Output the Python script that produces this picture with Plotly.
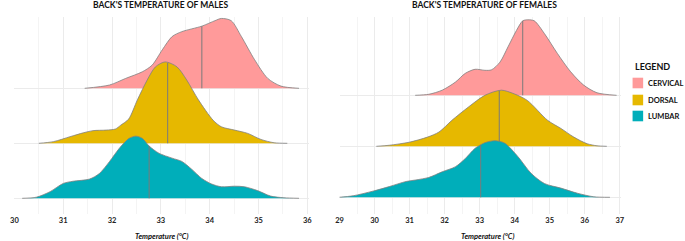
import numpy as np
import plotly.graph_objects as go

W, H = 685, 241

regions = ["CERVICAL", "DORSAL", "LUMBAR"]
region_colors = ["#FF9A9A", "#E6B800", "#00AEBA"]
outline_color = "#808080"

# ---- Males: temperature grid (°C) and scaled density heights (ridge units) ----
male_cervical_t = [31.44, 31.95, 32.28, 32.62, 32.82, 33.03, 33.23, 33.43, 33.84, 34.11, 34.24, 34.44, 34.65, 34.92, 35.19, 35.46, 35.83]
male_cervical_d = [0.00, 0.06, 0.18, 0.30, 0.42, 0.70, 0.94, 1.03, 1.13, 1.23, 1.27, 1.23, 0.94, 0.52, 0.18, 0.04, 0.00]

male_dorsal_t = [30.50, 30.80, 31.14, 31.41, 31.61, 31.88, 32.07, 32.18, 32.34, 32.52, 32.72, 32.89, 33.09, 33.33, 33.53, 33.77, 34.07, 34.24, 34.51, 34.78, 35.05, 35.32, 35.59]
male_dorsal_d = [0.00, 0.03, 0.12, 0.19, 0.23, 0.24, 0.26, 0.33, 0.44, 0.79, 1.15, 1.39, 1.48, 1.39, 1.15, 0.79, 0.42, 0.30, 0.24, 0.18, 0.07, 0.01, 0.00]

male_lumbar_t = [30.16, 30.45, 30.73, 31.00, 31.20, 31.54, 31.74, 31.95, 32.15, 32.35, 32.49, 32.62, 32.76, 32.96, 33.23, 33.43, 33.63, 33.84, 34.04, 34.24, 34.51, 34.71, 34.98, 35.25, 35.52, 35.83]
male_lumbar_d = [0.00, 0.02, 0.12, 0.27, 0.31, 0.35, 0.45, 0.67, 0.91, 1.09, 1.13, 1.09, 0.95, 0.82, 0.73, 0.67, 0.53, 0.36, 0.26, 0.21, 0.22, 0.21, 0.14, 0.04, 0.01, 0.00]

male_medians = [33.84, 33.14, 32.76]

# ---- Females ----
female_cervical_t = [31.16, 31.55, 31.93, 32.31, 32.59, 32.87, 33.15, 33.34, 33.58, 33.81, 34.05, 34.23, 34.375, 34.56, 34.85, 35.22, 35.60, 35.97, 36.35, 36.91]
female_cervical_d = [0.00, 0.02, 0.10, 0.26, 0.43, 0.51, 0.49, 0.50, 0.65, 0.95, 1.27, 1.46, 1.48, 1.46, 1.21, 0.82, 0.46, 0.20, 0.05, 0.00]

female_dorsal_t = [30.05, 30.42, 30.99, 31.51, 31.84, 32.21, 32.68, 33.15, 33.62, 33.98, 34.36, 34.94, 35.32, 35.69, 36.07, 36.35, 36.63]
female_dorsal_d = [0.00, 0.02, 0.08, 0.18, 0.28, 0.51, 0.77, 1.00, 1.10, 1.03, 0.90, 0.51, 0.35, 0.18, 0.05, 0.01, 0.00]

female_lumbar_t = [28.97, 29.39, 29.95, 30.42, 30.90, 31.18, 31.55, 31.93, 32.31, 32.59, 32.87, 33.15, 33.44, 33.72, 34.09, 34.47, 34.85, 35.32, 35.79, 36.26, 36.72]
female_lumbar_d = [0.00, 0.03, 0.12, 0.21, 0.31, 0.34, 0.39, 0.50, 0.60, 0.76, 0.96, 1.07, 1.11, 1.06, 0.80, 0.47, 0.27, 0.18, 0.08, 0.01, 0.00]

female_medians = [34.23, 33.56, 33.03]

male_ticks = [30, 31, 32, 33, 34, 35, 36]
female_ticks = [29, 30, 31, 32, 33, 34, 35, 36, 37]

panels = [
    dict(title="BACK'S TEMPERATURE OF MALES", xa="x", ya="y",
         curves=[(male_cervical_t, male_cervical_d), (male_dorsal_t, male_dorsal_d), (male_lumbar_t, male_lumbar_d)],
         medians=male_medians),
    dict(title="BACK'S TEMPERATURE OF FEMALES", xa="x2", ya="y2",
         curves=[(female_cervical_t, female_cervical_d), (female_dorsal_t, female_dorsal_d), (female_lumbar_t, female_lumbar_d)],
         medians=female_medians),
]

fig = go.Figure()
bases = [3, 2, 1]  # cervical on top, lumbar at bottom

for p in panels:
    for i, (t, d) in enumerate(p["curves"]):
        base = bases[i]
        t = np.array(t, dtype=float)
        d = np.array(d, dtype=float)
        fig.add_trace(go.Scatter(x=[t[0], t[-1]], y=[base, base], mode="lines",
                                 line=dict(width=0, color="rgba(0,0,0,0)"),
                                 xaxis=p["xa"], yaxis=p["ya"], showlegend=False, hoverinfo="skip"))
        fig.add_trace(go.Scatter(x=t, y=base + d, mode="lines", fill="tonexty",
                                 fillcolor=region_colors[i],
                                 line=dict(color=outline_color, width=0.8, shape="spline", smoothing=0.8),
                                 xaxis=p["xa"], yaxis=p["ya"], showlegend=False, name=regions[i]))
        m = p["medians"][i]
        hm = float(np.interp(m, t, d))
        fig.add_trace(go.Scatter(x=[m, m], y=[base, base + hm], mode="lines",
                                 line=dict(color="#7A7A7A", width=1),
                                 xaxis=p["xa"], yaxis=p["ya"], showlegend=False, hoverinfo="skip"))

top_px, bot_px = 17, 214
ph = bot_px - top_px

def py(ypx):
    return (bot_px - ypx) / ph

def px(xpx):
    return xpx / W

grid_major = "#EBEBEB"
grid_minor = "#F4F4F4"
tick_font = dict(family="Lato", size=7.5, color="#222222", weight="bold")

# left panel: 30 -> 10.5 px, 49.4 px / °C ; right panel: 29 -> 339.5 px, 35.44 px / °C
lx0, lpx = 10.5, 49.4
rx0, rpx = 339.5, 35.44
lrange = [30, 36.04]
rrange = [29, 37.04]

common_x = dict(showline=False, zeroline=False, ticks="", dtick=1, showgrid=True,
                gridcolor=grid_major, gridwidth=1, tickfont=tick_font,
                minor=dict(dtick=0.5, showgrid=True, gridcolor=grid_minor, gridwidth=1))

fig.update_layout(
    width=W, height=H,
    margin=dict(l=0, r=0, t=top_px, b=H - bot_px),
    paper_bgcolor="white", plot_bgcolor="white",
    showlegend=False,
    xaxis=dict(domain=[px(lx0), px(lx0 + (lrange[1] - 30) * lpx)], range=lrange,
               tickvals=male_ticks, anchor="y", **common_x),
    xaxis2=dict(domain=[px(rx0), px(rx0 + (rrange[1] - 29) * rpx)], range=rrange,
                tickvals=female_ticks, anchor="y2", **common_x),
    yaxis=dict(range=[1 - 15.7 / 55, 3 + 71.3 / 55], tickvals=[1, 2, 3], showticklabels=False,
               showgrid=True, gridcolor=grid_major, zeroline=False, showline=False, anchor="x"),
    yaxis2=dict(range=[1 - 16.7 / 51, 3 + 78.3 / 51], tickvals=[1, 2, 3], showticklabels=False,
                showgrid=True, gridcolor=grid_major, zeroline=False, showline=False, anchor="x2"),
)

title_font = dict(family="Lato", size=8.5, color="#111111", weight="bold")
axis_title_font = dict(family="Lato", size=7.5, color="#111111", weight="bold", style="italic")

annotations = [
    dict(text=panels[0]["title"], x=px(158.5), y=py(5), xref="paper", yref="paper",
         showarrow=False, font=title_font, xanchor="center", yanchor="middle"),
    dict(text=panels[1]["title"], x=px(486.5), y=py(5), xref="paper", yref="paper",
         showarrow=False, font=title_font, xanchor="center", yanchor="middle"),
    dict(text="Temperature (°C)", x=px(159), y=py(236.5), xref="paper", yref="paper",
         showarrow=False, font=axis_title_font, xanchor="center", yanchor="middle"),
    dict(text="Temperature (°C)", x=px(489), y=py(236.5), xref="paper", yref="paper",
         showarrow=False, font=axis_title_font, xanchor="center", yanchor="middle"),
    dict(text="LEGEND", x=px(636), y=py(66.5), xref="paper", yref="paper",
         showarrow=False, font=dict(family="Lato", size=9, color="#111111", weight="bold"),
         xanchor="left", yanchor="middle"),
]

shapes = []
legend_centers = [83, 100, 116]
for name, col, cy in zip(regions, region_colors, legend_centers):
    shapes.append(dict(type="rect", xref="paper", yref="paper",
                       x0=px(636), x1=px(646.7), y0=py(cy - 5.3), y1=py(cy + 5.3),
                       fillcolor=col, line=dict(width=0)))
    annotations.append(dict(text=name, x=px(650), y=py(cy), xref="paper", yref="paper",
                            showarrow=False, xanchor="left", yanchor="middle",
                            font=dict(family="Lato", size=7.5, color="#111111", weight="bold")))

fig.update_layout(annotations=annotations, shapes=shapes)

fig.write_html("out.html",
               config={"displayModeBar": False},
               post_script="document.body.style.margin='0';document.body.style.overflow='hidden';")
